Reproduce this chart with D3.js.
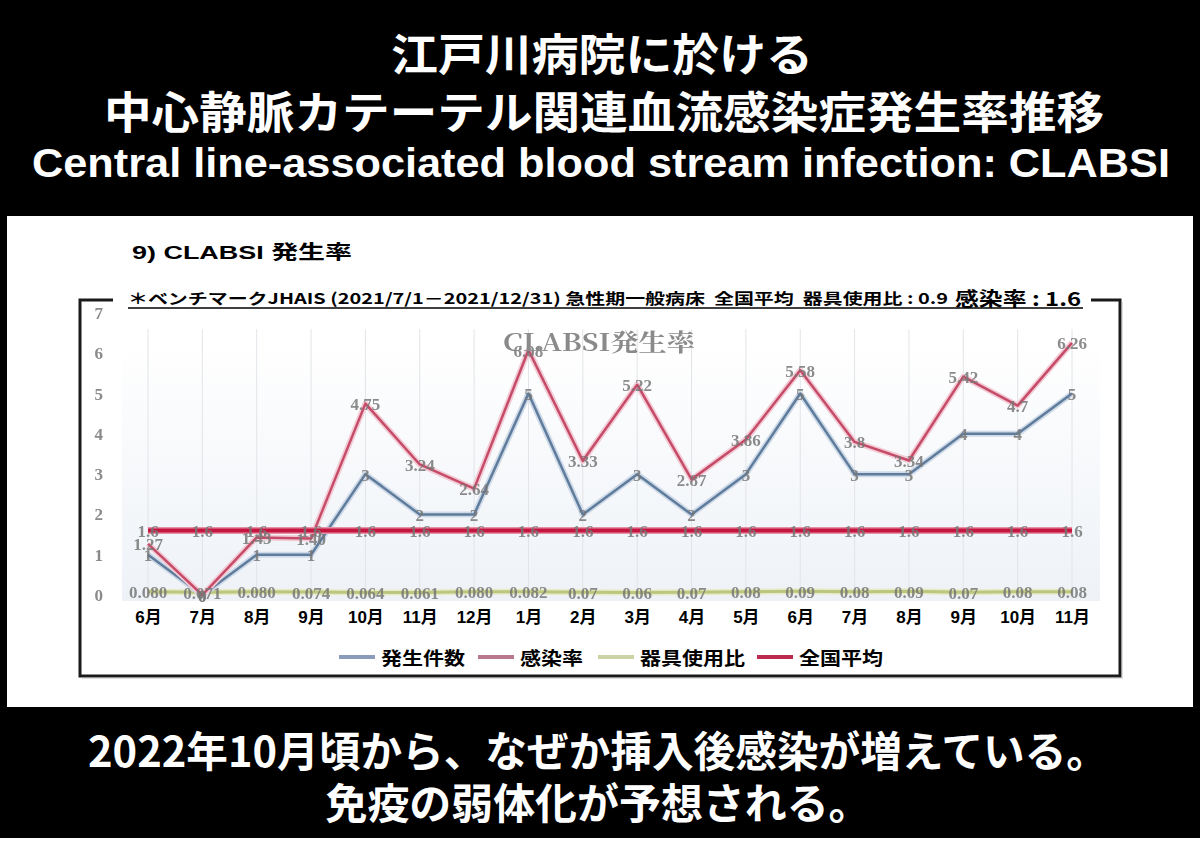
<!DOCTYPE html>
<html><head><meta charset="utf-8">
<script src="https://cdn.jsdelivr.net/npm/d3@7"></script>
<style>
html,body{margin:0;padding:0;background:#000;}
svg{display:block;}
</style></head>
<body>
<svg id="c" width="1200" height="852"></svg>
<script>
// ---- data ----
const months = ["6月","7月","8月","9月","10月","11月","12月","1月","2月","3月","4月","5月","6月","7月","8月","9月","10月","11月"];
const counts = [1,0,1,1,3,2,2,5,2,3,2,3,5,3,3,4,4,5];
const rates = [1.27,0,1.43,1.40,4.75,3.24,2.64,6.08,3.33,5.22,2.87,3.86,5.58,3.8,3.34,5.42,4.7,6.26];
const rateLabels = ["1.27","0","1.43","1.40","4.75","3.24","2.64","6.08","3.33","5.22","2.87","3.86","5.58","3.8","3.34","5.42","4.7","6.26"];
const deviceRatio = [0.080,0.071,0.080,0.074,0.064,0.061,0.080,0.082,0.07,0.06,0.07,0.08,0.09,0.08,0.09,0.07,0.08,0.08];
const deviceLabels = ["0.080","0.071","0.080","0.074","0.064","0.061","0.080","0.082","0.07","0.06","0.07","0.08","0.09","0.08","0.09","0.07","0.08","0.08"];
const nationalAvg = [1.6,1.6,1.6,1.6,1.6,1.6,1.6,1.6,1.6,1.6,1.6,1.6,1.6,1.6,1.6,1.6,1.6,1.6];
const yTicks = [0,1,2,3,4,5,6,7];
const seriesNames = ["発生件数","感染率","器具使用比","全国平均"];

const svg = d3.select("#c");
const JP = "'Noto Sans CJK JP','Liberation Sans',sans-serif";
const SERIF = "'Liberation Serif','DejaVu Serif',serif";

// backgrounds
svg.append("rect").attr("x",0).attr("y",0).attr("width",1200).attr("height",852).attr("fill","#000");
svg.append("rect").attr("x",0).attr("y",838).attr("width",1200).attr("height",14).attr("fill","#fff");
svg.append("rect").attr("x",7).attr("y",216).attr("width",1186).attr("height",491).attr("fill","#fff");

function txt(s, x, y, size, opts={}) {
  const t = svg.append("text").attr("x",x).attr("y",y).text(s)
    .attr("font-family",opts.family||JP).attr("font-size",size)
    .attr("font-weight",opts.weight||700).attr("fill",opts.fill||"#fff")
    .attr("text-anchor",opts.anchor||"middle").attr("dominant-baseline","central");
  if (opts.len) t.attr("textLength",opts.len).attr("lengthAdjust","spacingAndGlyphs");
  return t;
}
txt("江戸川病院に於ける",602,52,44,{len:422});
txt("中心静脈カテーテル関連血流感染症発生率推移",604,110,44,{len:1000});
txt("Central line-associated blood stream infection: CLABSI",601,163,40,{family:"'Liberation Sans',Arial,sans-serif",len:1138});
txt("2022年10月頃から、なぜか挿入後感染が増えている。",598,748,42,{len:1020});
txt("免疫の弱体化が予想される。",598,800,42,{len:545});

txt("9) CLABSI 発生率",132,252,19,{anchor:"start",fill:"#000",len:220,family:"'Liberation Sans',"+JP});

// chart box
const box = svg.append("g");
box.append("path").attr("d","M113,300 H80 V676 H1120 V300 H1091")
  .attr("fill","none").attr("stroke","#1a1a1a").attr("stroke-width",3);
box.append("path").attr("d","M82,678 H1122 V302").attr("fill","none").attr("stroke","#aaa").attr("stroke-width",1.5).attr("opacity",0.5);

// benchmark header
const hdr = svg.append("text").attr("y",297).attr("dominant-baseline","central")
  .attr("font-family",JP).attr("font-weight",700).attr("fill","#000");
hdr.append("tspan").attr("x",128).attr("font-size",15).attr("textLength",820).attr("lengthAdjust","spacingAndGlyphs")
  .text("＊ベンチマークJHAIS (2021/7/1－2021/12/31) 急性期一般病床\u00A0\u00A0全国平均\u00A0\u00A0器具使用比 : 0.9");
hdr.append("tspan").attr("x",955).attr("font-size",19).attr("textLength",126).attr("lengthAdjust","spacingAndGlyphs")
  .text("感染率 : 1.6");
svg.append("line").attr("x1",128).attr("x2",1083).attr("y1",308).attr("y2",308).attr("stroke","#000").attr("stroke-width",1.5);

// scales
const x = d3.scalePoint().domain(d3.range(months.length)).range([148,1072]);
const y = d3.scaleLinear().domain([0,7]).range([595,313]);

const defs = svg.append("defs");
const grad = defs.append("linearGradient").attr("id","tint").attr("x1",0).attr("y1",0).attr("x2",0).attr("y2",1);
grad.append("stop").attr("offset","0%").attr("stop-color","#ffffff");
grad.append("stop").attr("offset","100%").attr("stop-color","#eef2f7");
defs.append("filter").attr("id","soft").append("feGaussianBlur").attr("stdDeviation",0.55);
svg.append("rect").attr("x",122).attr("y",y(6.3)).attr("width",978).attr("height",y(0)-y(6.3)+6).attr("fill","url(#tint)");

const plot = svg.append("g").attr("filter","url(#soft)");

// vertical grid lines
plot.append("g").selectAll("line").data(months).join("line")
  .attr("x1",(d,i)=>x(i)).attr("x2",(d,i)=>x(i))
  .attr("y1",y(6.6)).attr("y2",y(0)+4).attr("stroke","#e2e4e8").attr("stroke-width",1);

// y axis ticks
const yAxis = d3.axisLeft(y).tickValues(yTicks).tickFormat(d3.format("d")).tickSize(0).tickPadding(0);
const ya = plot.append("g").attr("transform","translate(103,0)").call(yAxis);
ya.select(".domain").remove();
ya.selectAll("text").attr("font-family",SERIF).attr("font-weight",700).attr("font-size",17).attr("fill","#8a8a8a");

// chart inner title
svg.append("text").attr("x",599).attr("y",340).attr("text-anchor","middle").attr("dominant-baseline","central")
  .attr("font-family","'Noto Serif CJK JP','Liberation Serif',serif").attr("font-weight",700).attr("font-size",24).attr("fill","#8a8a8a")
  .attr("textLength",192).attr("lengthAdjust","spacingAndGlyphs").text("CLABSI発生率").attr("filter","url(#soft)");

// lines
const line = d3.line().x((d,i)=>x(i)).y(d=>y(d));
function drawSeries(data, halo, col, w, hw) {
  plot.append("path").datum(data).attr("d",line).attr("fill","none").attr("stroke",halo).attr("stroke-width",hw).attr("stroke-linejoin","round");
  plot.append("path").datum(data).attr("d",line).attr("fill","none").attr("stroke",col).attr("stroke-width",w).attr("stroke-linejoin","round");
}
drawSeries(deviceRatio,"#e6ebc8","#bcc67e",3,6);
drawSeries(counts,"#cfdae8","#5e7c9c",2.5,6);
drawSeries(rates,"#f2ccd6","#c64c68",2.5,6);
drawSeries(nationalAvg,"#e690a6","#c4173f",4,7);

// data labels
function labels(vals, strs) {
  plot.append("g").selectAll("text").data(vals).join("text")
    .attr("x",(d,i)=>x(i)).attr("y",d=>y(d)+1).attr("text-anchor","middle").attr("dominant-baseline","central")
    .attr("font-family",SERIF).attr("font-weight",700).attr("font-size",17).attr("fill","#777").attr("opacity",0.85)
    .text((d,i)=>strs[i]);
}
labels(deviceRatio, deviceLabels);
labels(nationalAvg, nationalAvg.map(String));
labels(counts, counts.map(String));
labels(rates, rateLabels);

// x axis (month labels)
const xAxis = d3.axisBottom(x).tickFormat(i=>months[i]).tickSize(0).tickPadding(0);
const xa = svg.append("g").attr("transform","translate(0,611)").call(xAxis);
xa.select(".domain").remove();
xa.selectAll("text").attr("font-family","'Liberation Sans',"+JP).attr("font-weight",700).attr("font-size",17).attr("fill","#000");

// legend
const legendCols = ["#8a9cba","#b7798b","#cbd3a4","#bd2a50"];
const legendX = [339,478,598,757];
const lg = svg.append("g");
seriesNames.forEach((n,i)=>{
  lg.append("line").attr("x1",legendX[i]).attr("x2",legendX[i]+36).attr("y1",657).attr("y2",657)
    .attr("stroke",legendCols[i]).attr("stroke-width",4);
  lg.append("text").attr("x",legendX[i]+42).attr("y",657).attr("dominant-baseline","central")
    .attr("font-family",JP).attr("font-weight",700).attr("font-size",18).attr("fill","#000")
    .attr("textLength",n.length*21).attr("lengthAdjust","spacingAndGlyphs").text(n);
});
</script>
</body></html>
